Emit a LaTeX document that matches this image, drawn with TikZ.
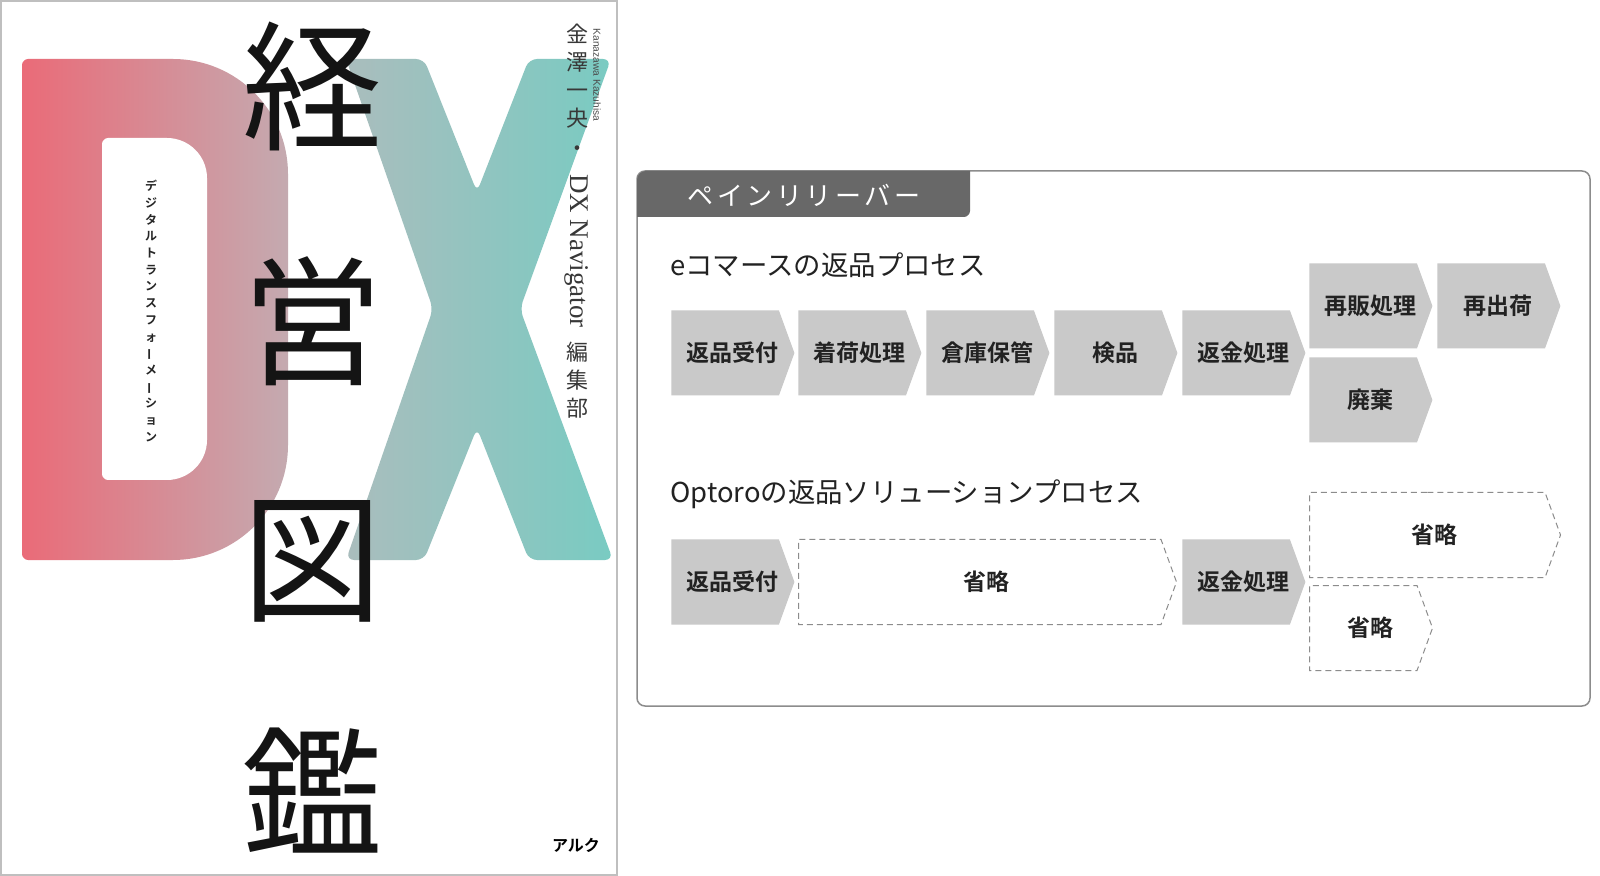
\documentclass[tikz,border=0pt]{standalone}
\usepackage{fontspec}
\usetikzlibrary{shapes.symbols}
\newfontfamily\jp{Noto Sans CJK JP}
\newfontfamily\jpb{Noto Sans CJK JP Bold}
\newfontfamily\jptab{Noto Sans CJK JP}[LetterSpace=14]
\newfontfamily\lserif{Liberation Serif}
\newfontfamily\lsans{Liberation Sans}
\definecolor{dred}{HTML}{EA6B78}
\definecolor{dmauve}{HTML}{C4AAB0}
\definecolor{xgray}{HTML}{AABDBD}
\definecolor{xteal}{HTML}{79CBC2}
\definecolor{tabgray}{HTML}{686868}
\definecolor{framegray}{HTML}{8C8C8C}
\definecolor{boxgray}{HTML}{C9C9C9}
\definecolor{ink}{HTML}{222222}
\newcommand{\tatebar}{\rotatebox[origin=c]{90}{ー}}
\tikzset{
  stepbox/.style={signal, signal to=east, signal from=nowhere, signal pointer angle=140,
    fill=boxgray, minimum width=61.5pt, minimum height=42.5pt, inner sep=0pt, anchor=west,
    font=\jpb\fontsize{11.5}{11.5}\selectfont, text=ink, execute at begin node=\hspace*{7pt}},
  skipbox/.style={stepbox, fill=white, draw=framegray, line width=0.5pt, dash pattern=on 3pt off 2pt},
  heading/.style={anchor=west, inner sep=0pt, font=\jp\fontsize{13.7}{13.7}\selectfont, text=ink},
  bigchar/.style={inner sep=0pt, font=\jp\fontsize{70}{70}\selectfont, text=black!92},
  author/.style={inner sep=0pt, align=center, text=black!78, font=\jp\fontsize{11}{14}\selectfont},
}
\begin{document}
\begin{tikzpicture}[x=0.5pt,y=-0.5pt]
\useasboundingbox (0,0) rectangle (1600,876);
\fill[white] (0,0) rectangle (1600,876);
\draw[black!25,line width=0.8pt] (1,1) rectangle (617,875);

\shade[left color=dred,right color=dmauve] (28,59) -- (173,59) .. controls (236,59) and (288,110) .. (288,174) -- (288,445) .. controls (288,509) and (236,560) .. (173,560) -- (28,560) .. controls (25,560) and (22,557) .. (22,554) -- (22,65) .. controls (22,62) and (25,59) .. (28,59) -- cycle;
\fill[white] (108,138) -- (167,138) .. controls (189,138) and (207,156) .. (207,178) -- (207,440) .. controls (207,462) and (189,480) .. (167,480) -- (108,480) .. controls (105,480) and (102,477) .. (102,474) -- (102,144) .. controls (102,141) and (105,138) .. (108,138) -- cycle;
\shade[left color=xgray,right color=xteal,rounded corners=4pt] (346,59) -- (424,59) -- (477,192) -- (529,59) -- (611,59) -- (520,309) -- (613,560) -- (529,560) -- (477,428) -- (424,560) -- (346,560) -- (433,309) -- cycle;

\node[bigchar] (kei) at (312,86) {経};
\node[bigchar] (ei) at (312,321) {営};
\node[bigchar] (zu) at (312,561) {図};
\node[bigchar] (kan) at (312,791) {鑑};

\node[inner sep=0pt, align=center, text=black!85, font=\jpb\fontsize{6}{8.35}\selectfont] (dxsub) at (151,311) {デ\\ジ\\タ\\ル\\ト\\ラ\\ン\\ス\\フ\\ォ\\\tatebar\\メ\\\tatebar\\シ\\ョ\\ン};

\node[author] (au1) at (577,76) {金\\澤\\一\\央};
\node[author] (au2) at (577,151) {・};
\node[author, rotate=-90, font=\lserif\fontsize{13.5}{13.5}\selectfont] (au3) at (577,251) {DX Navigator};
\node[author] (au4) at (577,380) {編\\集\\部};
\node[inner sep=0pt, rotate=-90, text=black!70, font=\lsans\fontsize{5.1}{5.1}\selectfont] (roma) at (597,75) {Kanazawa Kazuhisa};
\node[inner sep=0pt, text=black, font=\jpb\fontsize{8}{8}\selectfont] (alc) at (576,845) {アルク};

\draw[framegray,line width=0.75pt,rounded corners=4pt] (637,171) rectangle (1590,706);
\fill[tabgray] (637,217) -- (637,180) .. controls (637,175) and (641,171) .. (646,171) -- (970,171) -- (970,211) .. controls (970,214) and (967,217) .. (964,217) -- cycle;
\node[inner sep=0pt, text=white, font=\jptab\fontsize{13}{13}\selectfont] (tab) at (804,195) {ペインリリーバー};

\node[heading] (ecom) at (670,265) {eコマースの返品プロセス};
\node[stepbox] (e1) at (671,353) {返品受付};
\node[stepbox] (e2) at (798,353) {着荷処理};
\node[stepbox] (e3) at (926,353) {倉庫保管};
\node[stepbox] (e4) at (1054,353) {検品};
\node[stepbox] (e5) at (1182,353) {返金処理};
\node[stepbox] (e6) at (1309,306) {再販処理};
\node[stepbox] (e7) at (1437,306) {再出荷};
\node[stepbox] (e8) at (1309,400) {廃棄};

\node[heading] (opto) at (670,494) {Optoroの返品ソリューションプロセス};
\node[stepbox] (o1) at (671,582) {返品受付};
\node[skipbox, minimum width=189pt] (o2) at (798,582) {省略};
\node[stepbox] (o3) at (1182,582) {返金処理};
\node[skipbox, minimum width=125.5pt] (o4) at (1309,535) {省略};
\node[skipbox] (o5) at (1309,628) {省略};
\end{tikzpicture}
\end{document}
